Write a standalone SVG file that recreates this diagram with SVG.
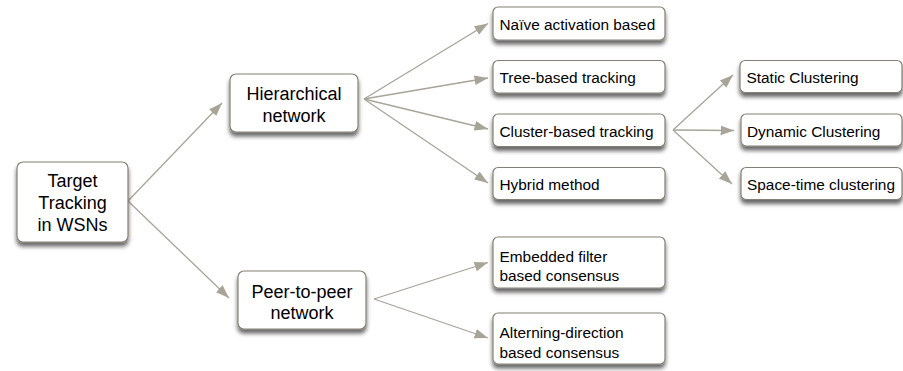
<svg xmlns="http://www.w3.org/2000/svg" width="903" height="371" viewBox="0 0 903 371">
<style>
.box{fill:#ffffff;stroke:#858074;stroke-width:1.2;filter:url(#sh)}
.t{font-family:"Liberation Sans",Arial,sans-serif;fill:#000}
.big{font-size:18px;text-anchor:middle}
.sm{font-size:15.4px}
.con line{stroke:#a8a498;stroke-width:1.3;marker-end:url(#ah)}
</style>
<defs>
<filter id="sh" x="-20%" y="-20%" width="140%" height="170%">
<feDropShadow dx="0" dy="4" stdDeviation="2.2" flood-color="#000" flood-opacity="0.6"/>
</filter>
<marker id="ah" markerUnits="userSpaceOnUse" markerWidth="14" markerHeight="12" viewBox="0 0 13 10" refX="12.5" refY="5" orient="auto">
<path d="M0,0.5 L12.5,5 L0,9.5 z" fill="#a8a498"/>
</marker>
</defs>
<g id="connectors" class="con">
<line x1="128" y1="201" x2="222" y2="103"/>
<line x1="128" y1="201" x2="229" y2="298"/>
<line x1="364" y1="99" x2="488" y2="23.5"/>
<line x1="364" y1="99" x2="488" y2="78"/>
<line x1="364" y1="99" x2="488" y2="129"/>
<line x1="364" y1="99" x2="488" y2="183"/>
<line x1="673" y1="130" x2="733" y2="75"/>
<line x1="673" y1="130" x2="734" y2="130.5"/>
<line x1="673" y1="130" x2="732" y2="184"/>
<line x1="374" y1="299" x2="488" y2="262.5"/>
<line x1="374" y1="299" x2="488" y2="338"/>
</g>
<g id="target">
<rect class="box" x="17" y="162" width="111" height="80" rx="6"/>
<text class="t big" x="72.5" y="187">Target</text>
<text class="t big" x="72.5" y="209">Tracking</text>
<text class="t big" x="72.5" y="231">in WSNs</text>
</g>
<g id="hierarchical">
<rect class="box" x="230" y="74" width="128" height="58" rx="6"/>
<text class="t big" x="294" y="100">Hierarchical</text>
<text class="t big" x="294" y="121.5">network</text>
</g>
<g id="peer">
<rect class="box" x="238" y="271" width="128" height="58" rx="6"/>
<text class="t big" x="302" y="297.5">Peer-to-peer</text>
<text class="t big" x="302" y="319">network</text>
</g>
<g id="naive">
<rect class="box" x="493" y="7" width="172" height="33" rx="5"/>
<text class="t sm" x="499.5" y="29.5">Naïve activation based</text>
</g>
<g id="tree">
<rect class="box" x="493" y="60.5" width="172" height="32.5" rx="5"/>
<text class="t sm" x="499.5" y="83">Tree-based tracking</text>
</g>
<g id="cluster">
<rect class="box" x="493" y="114" width="172" height="32.5" rx="5"/>
<text class="t sm" x="499.5" y="136.5">Cluster-based tracking</text>
</g>
<g id="hybrid">
<rect class="box" x="493" y="167.5" width="172" height="32" rx="5"/>
<text class="t sm" x="499.5" y="190">Hybrid method</text>
</g>
<g id="static">
<rect class="box" x="740" y="60.5" width="162" height="32" rx="5"/>
<text class="t sm" x="746.5" y="83">Static Clustering</text>
</g>
<g id="dynamic">
<rect class="box" x="741" y="114" width="161" height="32" rx="5"/>
<text class="t sm" x="747" y="136.5">Dynamic Clustering</text>
</g>
<g id="spacetime">
<rect class="box" x="741" y="167.5" width="161" height="32" rx="5"/>
<text class="t sm" x="747" y="190">Space-time clustering</text>
</g>
<g id="embedded">
<rect class="box" x="493" y="237" width="172" height="51" rx="5"/>
<text class="t sm" x="499.5" y="262">Embedded filter</text>
<text class="t sm" x="499.5" y="281">based consensus</text>
</g>
<g id="alterning">
<rect class="box" x="493" y="313" width="172" height="51" rx="5"/>
<text class="t sm" x="499.5" y="338">Alterning-direction</text>
<text class="t sm" x="499.5" y="357.5">based consensus</text>
</g>
</svg>
